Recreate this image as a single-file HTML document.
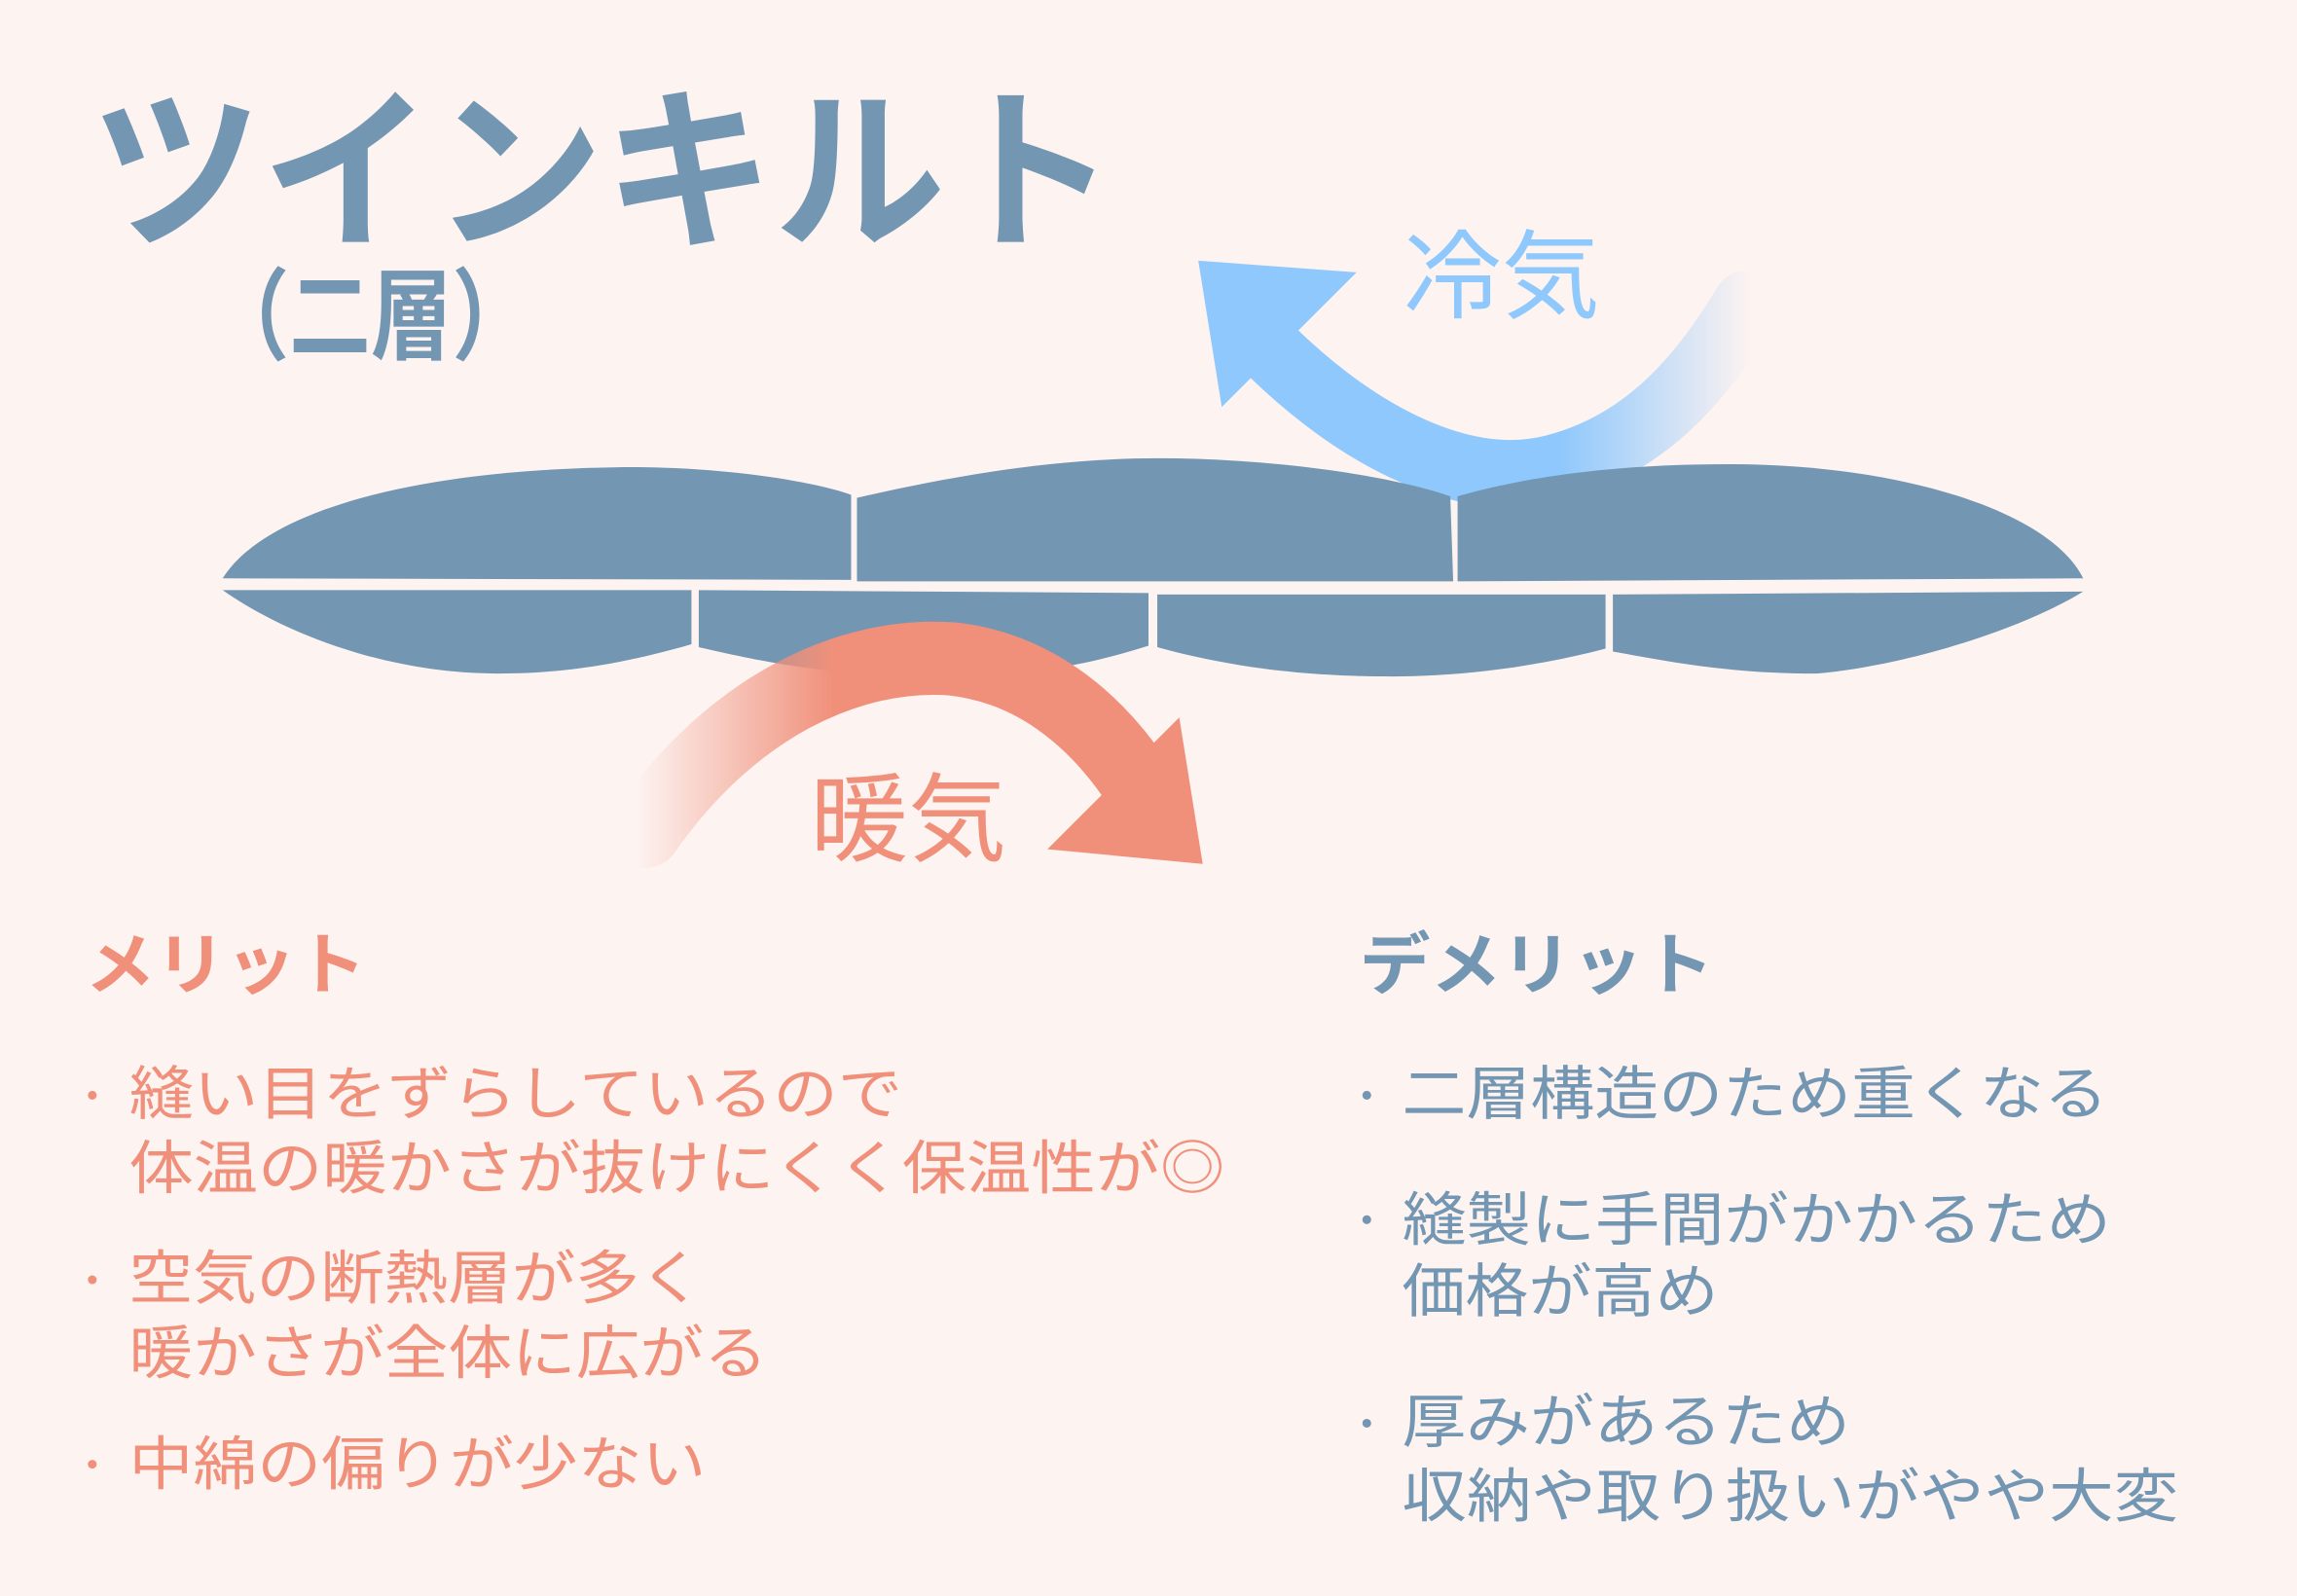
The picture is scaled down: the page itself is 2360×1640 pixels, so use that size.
<!DOCTYPE html>
<html><head><meta charset="utf-8">
<style>
html,body{margin:0;padding:0;background:#fdf3f1;}
svg{display:block;}
text{font-family:"Liberation Sans","Noto Sans CJK JP",sans-serif;}
</style></head>
<body>
<svg width="2360" height="1640" viewBox="0 0 1568 1090" preserveAspectRatio="none" xmlns="http://www.w3.org/2000/svg">
<defs>
<linearGradient id="bg" x1="870" y1="0" x2="1195" y2="0" gradientUnits="userSpaceOnUse">
<stop offset="0" stop-color="#8fc8fc"/><stop offset="0.6" stop-color="#8fc8fc"/><stop offset="1" stop-color="#8fc8fc" stop-opacity="0"/>
</linearGradient>
<linearGradient id="rg" x1="435" y1="0" x2="770" y2="0" gradientUnits="userSpaceOnUse">
<stop offset="0" stop-color="#f0907a" stop-opacity="0"/><stop offset="0.4" stop-color="#f0907a"/><stop offset="1" stop-color="#f0907a"/>
</linearGradient>
</defs>
<rect width="1568" height="1090" fill="#fdf3f1"/>
<text x="62" y="160" font-size="120" font-weight="bold" fill="#7396b3" textLength="700" lengthAdjust="spacingAndGlyphs">ツインキルト</text>
<text x="142" y="240" font-size="68" font-weight="bold" fill="#7396b3" textLength="222" lengthAdjust="spacingAndGlyphs">（二層）</text>

<!-- blue arrow -->
<path d="M868,240 C930,300 1000,335 1060,320 C1120,305 1160,262 1192,208" fill="none" stroke="url(#bg)" stroke-width="46" stroke-linecap="round"/>
<polygon points="818,178 926,186 834,278" fill="#8fc8fc"/>
<text x="958" y="212" font-size="66" fill="#8fc8fc" textLength="134" lengthAdjust="spacingAndGlyphs">冷気</text>

<!-- quilt -->
<g fill="#7396b3">
<path d="M152,395 C180,350 280,320 430,319 C500,319 560,330 581,338 L581,396 Z"/>
<path d="M585,340 C650,325 720,313 790,313 C870,313 950,325 990,339 L992,397 L585,397 Z"/>
<path d="M995,339 C1040,326 1100,317 1180,317 C1300,317 1400,350 1422,395 L995,397 Z"/>
<path d="M152,403 L472,403 L472,440 C420,455 380,460 340,460 C260,460 190,430 152,403 Z"/>
<path d="M477,403 L784,405 L784,441 C740,455 700,462 640,462 C570,462 520,452 477,442 Z"/>
<path d="M790,406 L1096,406 L1096,443 C1050,455 1000,462 950,462 C880,462 830,453 790,442 Z"/>
<path d="M1101,406 L1422,404 C1380,430 1300,455 1240,460 C1180,460 1140,452 1101,445 Z"/>
</g>

<!-- red arrow -->
<path d="M440,568 C500,482 580,445 650,450 C705,456 745,490 772,528" fill="none" stroke="url(#rg)" stroke-width="50" stroke-linecap="round"/>
<polygon points="805,490 821,590 715,580" fill="#f0907a"/>
<text x="553" y="583" font-size="66" fill="#f0907a" textLength="134" lengthAdjust="spacingAndGlyphs">暖気</text>

<!-- merit -->
<text x="58" y="675" font-size="46" font-weight="bold" fill="#f0907a" textLength="192" lengthAdjust="spacingAndGlyphs">メリット</text>
<g fill="#f0907a" font-size="40">
<circle cx="63" cy="748" r="3"/>
<text x="88" y="761" textLength="528" lengthAdjust="spacingAndGlyphs">縫い目をずらしているので</text>
<text x="88" y="812" textLength="748" lengthAdjust="spacingAndGlyphs">体温の暖かさが抜けにくく保温性が◎</text>
<circle cx="63" cy="874" r="3"/>
<text x="88" y="887" textLength="392" lengthAdjust="spacingAndGlyphs">空気の断熱層が多く</text>
<text x="88" y="938" textLength="436" lengthAdjust="spacingAndGlyphs">暖かさが全体に広がる</text>
<circle cx="63" cy="1000" r="3"/>
<text x="88" y="1014" textLength="394" lengthAdjust="spacingAndGlyphs">中綿の偏りが少ない</text>
</g>

<!-- demerit -->
<text x="928" y="675" font-size="46" font-weight="bold" fill="#7396b3" textLength="242" lengthAdjust="spacingAndGlyphs">デメリット</text>
<g fill="#7396b3" font-size="40">
<circle cx="933" cy="748" r="3"/>
<text x="957" y="761" textLength="482" lengthAdjust="spacingAndGlyphs">二層構造のため重くなる</text>
<circle cx="933" cy="833" r="3"/>
<text x="957" y="847" textLength="484" lengthAdjust="spacingAndGlyphs">縫製に手間がかかるため</text>
<text x="957" y="896" textLength="216" lengthAdjust="spacingAndGlyphs">価格が高め</text>
<circle cx="933" cy="972" r="3"/>
<text x="957" y="985" textLength="306" lengthAdjust="spacingAndGlyphs">厚みがあるため</text>
<text x="957" y="1036" textLength="530" lengthAdjust="spacingAndGlyphs">収納や取り扱いがやや大変</text>
</g>
</svg>
</body></html>
